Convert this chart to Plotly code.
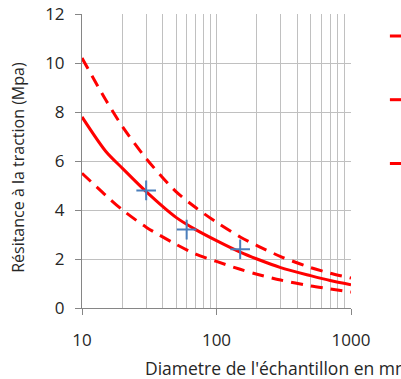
import plotly.graph_objects as go

# Data
diam = [10, 15, 20, 30, 50, 70, 100, 150, 200, 300, 500, 700, 1000]
moyenne = [7.8, 6.4, 5.7, 4.75, 3.7, 3.2, 2.75, 2.28, 2.0, 1.65, 1.32, 1.12, 0.95]
borne_sup = [10.2, 8.5, 7.4, 6.1, 4.75, 4.1, 3.5, 2.9, 2.55, 2.1, 1.65, 1.42, 1.22]
borne_inf = [5.5, 4.6, 4.0, 3.3, 2.6, 2.2, 1.9, 1.58, 1.38, 1.14, 0.9, 0.78, 0.65]
essai_x = [30, 60, 150]
essai_y = [4.8, 3.2, 2.4]

x_major = [10, 100, 1000]
x_minor = [20, 30, 40, 50, 60, 70, 80, 90, 200, 300, 400, 500, 600, 700, 800, 900]
y_ticks = [0, 2, 4, 6, 8, 10, 12]

RED = "#ff0000"
BLUE = "#4a7ebb"
GRID = "#c0c0c0"
AXIS = "#868686"
FONT = "Open Sans"

fig = go.Figure()
fig.add_trace(go.Scatter(x=diam, y=borne_sup, mode="lines", name="Borne supérieure",
                         legendgroup="a",
                         line=dict(color=RED, width=3, dash="12px,8px",
                                   shape="spline", smoothing=0.8)))
fig.add_trace(go.Scatter(x=diam, y=moyenne, mode="lines", name="Moyenne",
                         legendgroup="b",
                         line=dict(color=RED, width=3, shape="spline", smoothing=0.8)))
fig.add_trace(go.Scatter(x=diam, y=borne_inf, mode="lines", name="Borne inférieure",
                         legendgroup="c",
                         line=dict(color=RED, width=3, dash="12px,8px",
                                   shape="spline", smoothing=0.8)))
fig.add_trace(go.Scatter(x=essai_x, y=essai_y, mode="markers", name="Essais",
                         showlegend=False,
                         marker=dict(symbol="cross-thin", size=14,
                                     line=dict(color=BLUE, width=2))))

fig.update_layout(
    width=401, height=379,
    margin=dict(l=82, r=50, t=14, b=71, autoexpand=False),
    paper_bgcolor="white", plot_bgcolor="white",
    font=dict(family=FONT, size=17, color="#262626"),
    showlegend=True,
    legend=dict(x=1.126, xanchor="left", y=0.983, yanchor="top",
                font=dict(size=16), tracegroupgap=40,
                bgcolor="rgba(0,0,0,0)"),
    xaxis=dict(type="log", range=[1, 3], tickvals=x_major,
               ticktext=[str(v) for v in x_major],
               showgrid=True, gridcolor=GRID, gridwidth=1,
               showline=True, linecolor=AXIS, linewidth=1,
               ticks="outside", ticklen=6, tickcolor=AXIS,
               ticklabelstandoff=11, ticklabeloverflow="allow",
               tickfont=dict(size=17), zeroline=False,
               minor=dict(tickvals=x_minor, showgrid=True, gridcolor=GRID,
                          gridwidth=1, ticks="")),
    yaxis=dict(range=[0, 12], tickvals=y_ticks,
               showgrid=True, gridcolor=GRID, gridwidth=1,
               showline=True, linecolor=AXIS, linewidth=1,
               ticks="outside", ticklen=6, tickcolor=AXIS,
               ticklabelstandoff=7, ticklabeloverflow="allow",
               tickfont=dict(size=17), zeroline=False),
    annotations=[
        dict(text="Diametre de l'échantillon en mm", xref="paper", yref="paper",
             x=0.227, y=-0.204, xanchor="left", yanchor="middle",
             showarrow=False, font=dict(size=17.5)),
        dict(text="Résitance à la traction (Mpa)", xref="paper", yref="paper",
             x=-0.238, y=0.48, xanchor="center", yanchor="middle",
             textangle=-90, showarrow=False, font=dict(size=16)),
    ],
)

fig.write_html(
    "out.html",
    config={"displayModeBar": False},
    post_script="document.body.style.margin='0';document.body.style.overflow='hidden';",
)
